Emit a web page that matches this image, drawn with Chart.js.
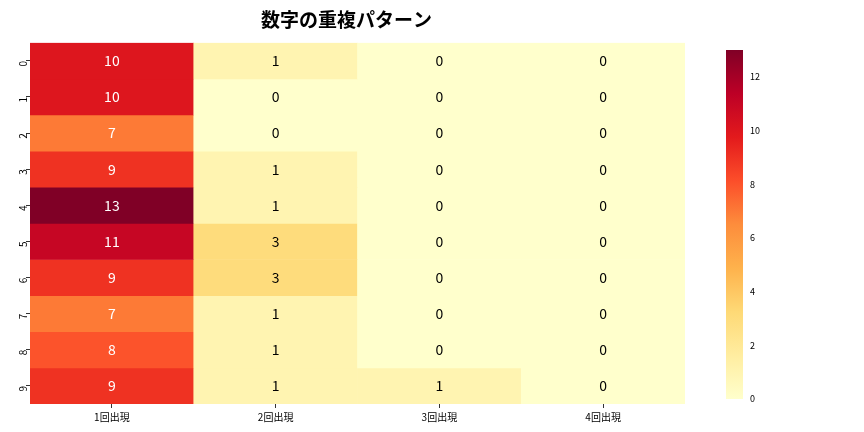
<!DOCTYPE html>
<html><head><meta charset="utf-8">
<script src="https://cdn.jsdelivr.net/npm/chart.js@4"></script>
<style>body{margin:0;background:#fff;font-family:"Noto Sans CJK JP";}
#m{position:absolute;left:0;top:0;width:700px;height:432px}
#c{position:absolute;left:700px;top:0;width:100px;height:432px}</style>
</head><body>
<div id="m"><canvas id="mc"></canvas></div>
<div id="c"><canvas id="cc"></canvas></div>
<script>
const columns=["1回出現","2回出現","3回出現","4回出現"];
const rowLabels=["0","1","2","3","4","5","6","7","8","9"];
const values=[[10,1,0,0],[10,0,0,0],[7,0,0,0],[9,1,0,0],[13,1,0,0],[11,3,0,0],[9,3,0,0],[7,1,0,0],[8,1,0,0],[9,1,1,0]];
const vmin=0,vmax=13;
const cbTicks=[0,2,4,6,8,10,12];
const stops=["#ffffcc","#ffeda0","#fed976","#feb24c","#fd8d3c","#fc4e2a","#e31a1c","#bd0026","#800026"];
function hex(h){return [1,3,5].map(i=>parseInt(h.substr(i,2),16));}
function cmap(v){let t=(v-vmin)/(vmax-vmin)*(stops.length-1);let i=Math.min(Math.floor(t),stops.length-2);let f=t-i;
 const a=hex(stops[i]),b=hex(stops[i+1]);return `rgb(${a.map((x,k)=>Math.round(x+(b[k]-x)*f)).join(',')})`;}
const FONT='"Noto Sans CJK JP","DejaVu Sans",sans-serif';
const datasets=values.map((row,r)=>({label:rowLabels[r],data:row.map(()=>[r,r+1]),backgroundColor:row.map(cmap),grouped:false,barPercentage:1,categoryPercentage:1,borderWidth:0}));
const labelPlugin={id:'lbl',afterDatasetsDraw(ch){const ctx=ch.ctx;ctx.save();ctx.font='14px '+FONT;ctx.textAlign='center';ctx.textBaseline='middle';
 ch.data.datasets.forEach((ds,r)=>{ch.getDatasetMeta(r).data.forEach((el,c)=>{const v=values[r][c];ctx.fillStyle=v>6.5?'#fff':'#000';ctx.fillText(String(v),el.x,(el.y+el.base)/2);});});ctx.restore();}};
new Chart(document.getElementById('mc'),{type:'bar',data:{labels:columns,datasets},plugins:[labelPlugin],
options:{responsive:true,maintainAspectRatio:false,animation:false,layout:{padding:{left:8,right:15,top:4,bottom:6}},
plugins:{legend:{display:false},tooltip:{enabled:false},title:{display:true,text:'数字の重複パターン',font:{family:FONT,size:19,weight:'bold'},color:'#000',padding:{top:4,bottom:12}}},
scales:{x:{z:1,grid:{color:'#fff',lineWidth:1,offset:false,drawTicks:true,tickLength:4,tickColor:'#333'},border:{display:false},ticks:{font:{family:FONT,size:10},color:'#000',maxRotation:0}},
y:{type:'linear',min:0,max:10,reverse:true,z:1,afterBuildTicks(s){s.ticks=rowLabels.map((l,i)=>({value:i+0.5}));},
 grid:{color:'#fff',lineWidth:1,tickLength:4,tickColor:'#333'},border:{display:false},
 ticks:{font:{family:FONT,size:10},color:'#000',maxRotation:90,minRotation:90,callback:(v)=>rowLabels[Math.floor(v)]}}}}});
const cbPlugin={id:'cb',beforeDatasetsDraw(ch){}};
new Chart(document.getElementById('cc'),{type:'bar',data:{labels:[''],datasets:[{data:[[vmin,vmax]],barPercentage:1,categoryPercentage:1,borderWidth:0,
 backgroundColor(ctx){const ch=ctx.chart;const ca=ch.chartArea;if(!ca)return '#fff';const ys=ch.scales.y;const g=ch.ctx.createLinearGradient(0,ys.getPixelForValue(vmin),0,ys.getPixelForValue(vmax));stops.forEach((s,i)=>g.addColorStop(i/(stops.length-1),s));return g;}}]},
options:{responsive:true,maintainAspectRatio:false,animation:false,layout:{padding:{left:26,right:40,top:50,bottom:33}},
plugins:{legend:{display:false},tooltip:{enabled:false}},
scales:{x:{display:false},y:{position:'right',min:vmin,max:vmax,afterBuildTicks(s){s.ticks=cbTicks.map(v=>({value:v}));},grid:{display:false,drawTicks:true,tickLength:3},border:{display:false},ticks:{font:{family:FONT,size:9},color:'#000',padding:4}}}}});
</script></body></html>
